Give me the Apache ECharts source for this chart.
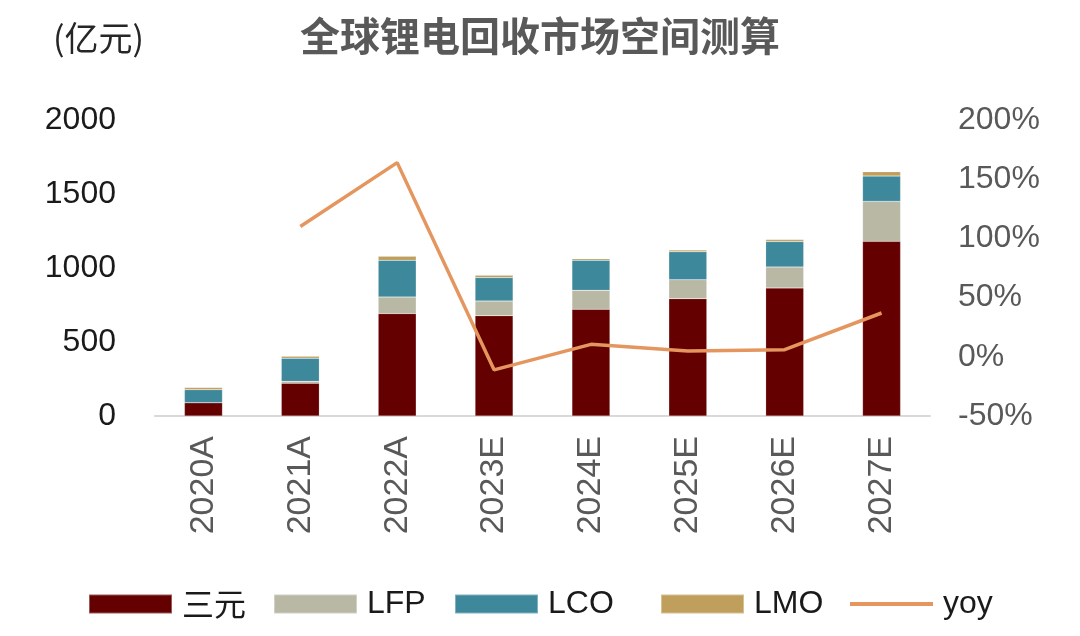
<!DOCTYPE html>
<html>
<head>
<meta charset="utf-8">
<script src="https://cdn.jsdelivr.net/npm/echarts@6/dist/echarts.min.js"></script>
<style>html,body{margin:0;padding:0;background:#fff;}#c{width:1080px;height:636px;}</style>
</head>
<body>
<div id="c"></div>
<script>
const categories = ['2020A','2021A','2022A','2023E','2024E','2025E','2026E','2027E'];
const ncm = [90, 221, 692, 678, 721, 793, 865, 1180];
const lfp = [0, 13, 112, 99, 128, 128, 142, 270];
const lco = [88, 157, 248, 158, 203, 189, 172, 171];
const lmo = [14, 13, 27, 16, 11, 11, 13, 30];
const yoy = [null, 110, 164, -11, 10.5, 5, 6, 37];
const leftTicks = [0, 500, 1000, 1500, 2000];
const rightTicks = [-50, 0, 50, 100, 150, 200];

const colors = { ncm:'#640000', lfp:'#B9B8A5', lco:'#3E889B', lmo:'#C09E5C', yoy:'#E4965E' };
const LF = 'Liberation Sans, Arial, sans-serif';
const CJK = 'Noto Sans CJK SC, sans-serif';

const chart = echarts.init(document.getElementById('c'));
function barSeries(name, data, color){
  return { name, type:'bar', stack:'total', data, barWidth:38,
    itemStyle:{ color, borderColor:'rgba(255,255,255,0.35)', borderWidth:0.5 } };
}
function leg(name, left, opts){
  return Object.assign({ data:[name], left, top:588, itemWidth:83, itemHeight:19, itemGap:0,
    icon:'rect', padding:0, textStyle:{ fontSize:32, color:'#1a1a1a', fontFamily: name==='三元'?CJK:LF, padding:[0,0,0,5] } }, opts||{});
}
chart.setOption({
  animation:false,
  backgroundColor:'#fff',
  title:[
    { text:'全球锂电回收市场空间测算', left:'center', top:16, padding:0,
      textStyle:{ fontSize:40, fontWeight:'bold', color:'#595959', fontFamily:CJK } },
    { text:'(亿元)', left:53, top:21, padding:0,
      textStyle:{ fontSize:34, fontWeight:'normal', color:'#262626', fontFamily:CJK } }
  ],
  legend:[
    leg('三元', 88),
    leg('LFP', 273),
    leg('LCO', 454),
    leg('LMO', 660),
    leg('yoy', 850, { itemHeight:4, icon:'rect' })
  ],
  grid:{ left:155, right:150, top:120, bottom:220 },
  xAxis:{ type:'category', data:categories,
    axisLine:{ lineStyle:{ color:'#d9d9d9', width:2 } },
    axisTick:{ show:false },
    axisLabel:{ rotate:90, margin:20, fontSize:34, color:'#595959', fontFamily:LF } },
  yAxis:[
    { type:'value', min:leftTicks[0], max:leftTicks[leftTicks.length-1], interval:500,
      splitLine:{ show:false }, axisLine:{ show:false }, axisTick:{ show:false },
      axisLabel:{ margin:39, fontSize:32, color:'#1a1a1a', fontFamily:LF, formatter:(v)=>String(v) } },
    { type:'value', min:rightTicks[0], max:rightTicks[rightTicks.length-1], interval:50,
      splitLine:{ show:false }, axisLine:{ show:false }, axisTick:{ show:false },
      axisLabel:{ margin:28, fontSize:32, color:'#595959', fontFamily:LF, formatter:'{value}%' } }
  ],
  series:[
    barSeries('三元', ncm, colors.ncm),
    barSeries('LFP', lfp, colors.lfp),
    barSeries('LCO', lco, colors.lco),
    barSeries('LMO', lmo, colors.lmo),
    { name:'yoy', type:'line', yAxisIndex:1, data:yoy, showSymbol:false, symbol:'none',
      lineStyle:{ color:colors.yoy, width:3.5 }, itemStyle:{ color:colors.yoy }, z:5 }
  ]
});
</script>
</body>
</html>
